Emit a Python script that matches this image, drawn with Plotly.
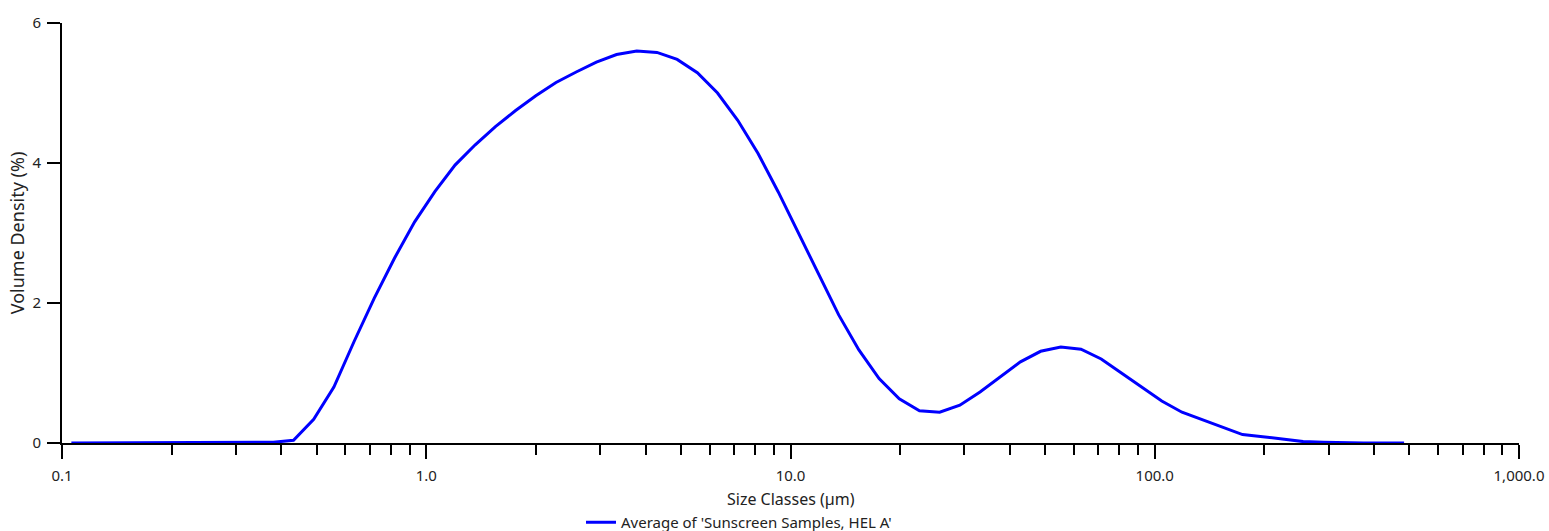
import plotly.graph_objects as go

size_classes = [0.1061, 0.1206, 0.1370, 0.1556, 0.1768, 0.2009, 0.2282, 0.2593, 0.2946, 0.3347,
                0.3803, 0.4321, 0.4909, 0.5577, 0.6337, 0.7200, 0.8180, 0.9293, 1.0558, 1.1996,
                1.3629, 1.5485, 1.7593, 1.9988, 2.2709, 2.5801, 2.9314, 3.3305, 3.7840, 4.2992,
                4.8845, 5.5496, 6.3052, 7.1636, 8.1390, 9.2471, 10.506, 11.937, 13.562, 15.408,
                17.506, 19.889, 22.597, 25.674, 29.170, 33.141, 37.653, 42.780, 48.604, 55.222,
                62.740, 71.282, 80.988, 92.014, 104.54, 118.78, 134.95, 153.32, 174.20, 197.91,
                224.86, 255.47, 290.25, 329.77, 374.67, 425.68, 483.64]

volume_density = [0, 0, 0, 0, 0, 0, 0, 0, 0, 0,
                  0.01, 0.04, 0.34, 0.80, 1.45, 2.07, 2.64, 3.16, 3.59, 3.97,
                  4.26, 4.52, 4.75, 4.96, 5.15, 5.30, 5.44, 5.55, 5.60, 5.58,
                  5.48, 5.29, 5.00, 4.61, 4.14, 3.59, 3.00, 2.40, 1.83, 1.33,
                  0.92, 0.63, 0.46, 0.44, 0.54, 0.73, 0.95, 1.16, 1.31, 1.37,
                  1.34, 1.20, 1.00, 0.80, 0.60, 0.44, 0.33, 0.22, 0.12, 0.09,
                  0.06, 0.02, 0.01, 0, 0, 0, 0]

series_name = "Average of 'Sunscreen Samples, HEL A'"
x_title = "Size Classes (µm)"
y_title = "Volume Density (%)"

x_major_vals = [0.1, 1, 10, 100, 1000]
x_major_text = ["0.1", "1.0", "10.0", "100.0", "1,000.0"]
x_minor_vals = [m * d for d in [0.1, 1, 10, 100] for m in range(2, 10)]
y_tick_vals = [0, 2, 4, 6]

FONT = "Noto Sans"
TXT = "#222222"

fig = go.Figure()
fig.add_trace(go.Scatter(
    x=size_classes, y=volume_density, mode="lines", name=series_name,
    line=dict(color="#0000FF", width=3), showlegend=True,
))

fig.update_layout(
    width=1549, height=531,
    margin=dict(l=62, r=30, t=23, b=88),
    paper_bgcolor="white", plot_bgcolor="white",
    font=dict(family=FONT, size=15, color=TXT),
    showlegend=True,
    legend=dict(orientation="h", x=0.3562, xanchor="left",
                yref="container", y=0.016, yanchor="middle",
                font=dict(size=15, color=TXT), bgcolor="rgba(0,0,0,0)",
                itemwidth=30),
    xaxis=dict(
        type="log", range=[-1, 3], automargin=False,
        showline=True, linecolor="black", linewidth=2,
        showgrid=False, zeroline=False,
        tickmode="array", tickvals=x_major_vals, ticktext=x_major_text,
        ticks="outside", ticklen=14, tickwidth=2, tickcolor="black",
        ticklabelstandoff=4,
        tickfont=dict(size=15, color=TXT),
        minor=dict(tickmode="array", tickvals=x_minor_vals, ticks="outside",
                   ticklen=10, tickwidth=2, tickcolor="black", showgrid=False),
    ),
    yaxis=dict(
        range=[0, 6], automargin=False,
        showline=True, linecolor="black", linewidth=2,
        showgrid=False, zeroline=False,
        tickmode="array", tickvals=y_tick_vals,
        ticks="outside", ticklen=13, tickwidth=2, tickcolor="black",
        ticklabelstandoff=3,
        tickfont=dict(size=15, color=TXT),
        title=dict(text=y_title, font=dict(size=18, color=TXT), standoff=3),
    ),
    annotations=[dict(text=x_title, xref="paper", yref="paper", x=0.5, y=-0.1345,
                      xanchor="center", yanchor="middle", showarrow=False,
                      font=dict(size=16, color=TXT))],
)

fig.write_html("out.html", config={"displayModeBar": False},
               post_script="document.body.style.margin='0';")
